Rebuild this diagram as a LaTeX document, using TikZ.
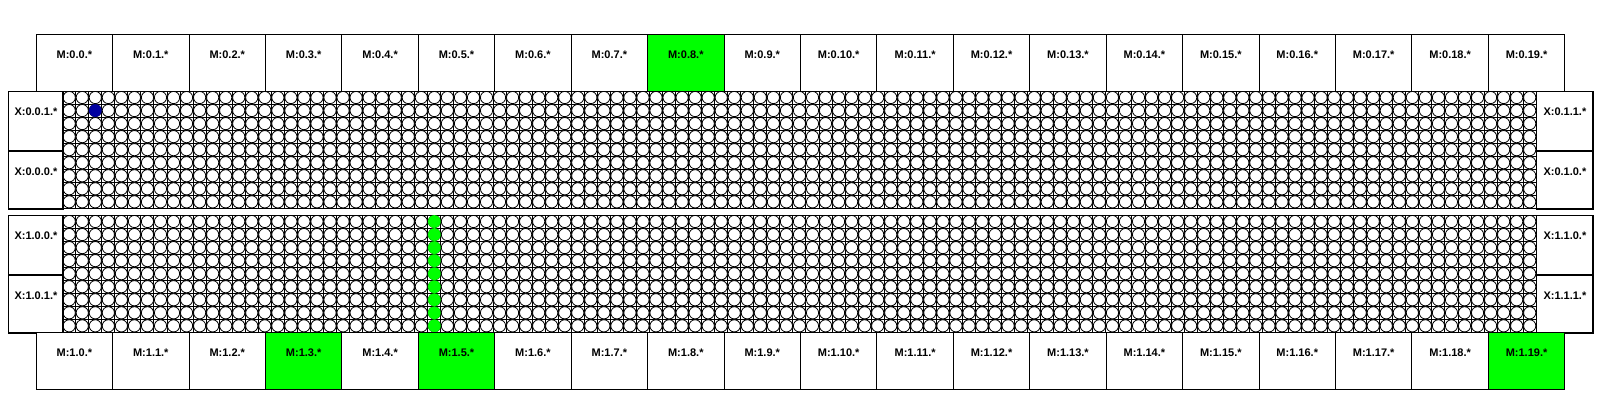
\documentclass[tikz,border=0pt]{standalone}
\usepackage{fontspec}
\setmainfont{Liberation Sans}
\usepackage{tikz}

\definecolor{mgreen}{RGB}{0,255,0}
\definecolor{mblue}{RGB}{0,0,160}

\tikzset{
  lbl/.style={font=\bfseries\fontsize{11}{13}\selectfont},
  mbox/.style={lbl,draw,line width=.9pt,inner sep=0pt,minimum width=76.43,
    text height=24,text depth=32.7,anchor=north west},
  xbox/.style={lbl,draw,line width=.9pt,inner sep=0pt,
    text height=24,text depth=34.68,anchor=north west},
  cell/.style={draw,fill=white,line width=.8pt},
  hit/.style={fill=#1},
}

\begin{document}
\begin{tikzpicture}[x=1pt,y=-1pt]
  \useasboundingbox (0,0) rectangle (1600,400);
  \def\cw{13.04}
  % the two tile blocks: grid lines, then circles
  \foreach \top in {91,215} {
    \foreach \c in {0,...,113}
      \draw[line width=1pt] ({62.7+\c*\cw},\top) -- ({62.7+\c*\cw},{\top+9*\cw});
    \foreach \r in {0,...,9}
      \draw[line width=1pt] (62.7,{\top+\r*\cw}) -- (1536.2,{\top+\r*\cw});
    \foreach \r in {0,...,8}
      \foreach \c in {0,...,112}
        \draw[cell] ({62.7+(\c+.5)*\cw},{\top+(\r+.5)*\cw}) circle (6.1);
    \draw[line width=.9pt] (8.3,\top) rectangle (1592.7,{\top+9*\cw});
  }
  % marked tiles
  \foreach \r in {0,...,8}
    \fill[hit=mgreen] ({62.7+28.5*\cw},{215+(\r+.5)*\cw}) circle (6.4);
  \fill[hit=mblue] ({62.7+2.5*\cw},{91+1.5*\cw}) circle (6.4);
  % side boxes
  \node[xbox,minimum width=54.4] (x001) at (8.3,91) {X:0.0.1.*};
  \node[xbox,minimum width=54.4] (x000) at (x001.south west) {X:0.0.0.*};
  \node[xbox,minimum width=56.5] (x011) at (1536.2,91) {X:0.1.1.*};
  \node[xbox,minimum width=56.5] (x010) at (x011.south west) {X:0.1.0.*};
  \node[xbox,minimum width=54.4] (x100) at (8.3,215) {X:1.0.0.*};
  \node[xbox,minimum width=54.4] (x101) at (x100.south west) {X:1.0.1.*};
  \node[xbox,minimum width=56.5] (x110) at (1536.2,215) {X:1.1.0.*};
  \node[xbox,minimum width=56.5] (x111) at (x110.south west) {X:1.1.1.*};
  % memory boxes
  \foreach \i in {0,...,19} {
    \def\col{white}\ifnum\i=8 \def\col{mgreen}\fi
    \node[mbox,fill=\col] (m0-\i) at ({35.7+\i*76.43},34.3) {M:0.\i.*};
  }
  \foreach \i in {0,...,19} {
    \def\col{white}
    \ifnum\i=3 \def\col{mgreen}\fi
    \ifnum\i=5 \def\col{mgreen}\fi
    \ifnum\i=19 \def\col{mgreen}\fi
    \node[mbox,fill=\col] (m1-\i) at ({35.7+\i*76.43},332.4) {M:1.\i.*};
  }
\end{tikzpicture}
\end{document}
